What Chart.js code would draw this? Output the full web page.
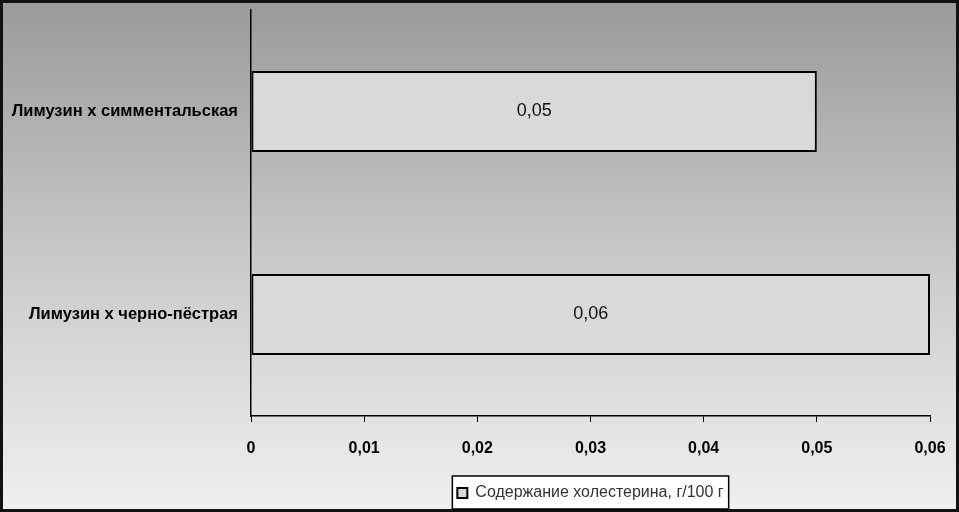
<!DOCTYPE html>
<html>
<head>
<meta charset="utf-8">
<script src="https://cdn.jsdelivr.net/npm/chart.js@4/dist/chart.umd.min.js"></script>
<style>
  html, body { margin: 0; padding: 0; background: #fff; }
  #wrap { width: 959px; height: 512px; }
</style>
</head>
<body>
<div id="wrap"><canvas id="myChart" width="959" height="512"></canvas></div>
<script>
// Define the data
var categories = ['Лимузин х симментальская', 'Лимузин х черно-пёстрая'];
var cholesterol = [0.05, 0.06]; // г/100 г
var seriesLabel = 'Содержание холестерина, г/100 г';
var xTicks = [0, 0.01, 0.02, 0.03, 0.04, 0.05, 0.06];

function fmt(v) {
  if (v === 0) return '0';
  return v.toFixed(2).replace('.', ',');
}

// background gradient, outer frame and legend box
var backdrop = {
  id: 'backdrop',
  beforeDraw: function(chart) {
    var c = chart.ctx, w = chart.width, h = chart.height;
    c.save();
    var g = c.createLinearGradient(0, 0, 0, h);
    g.addColorStop(0, '#9a9a9a');
    g.addColorStop(0.55, '#cdcdcd');
    g.addColorStop(1, '#f0f0f0');
    c.fillStyle = g;
    c.fillRect(0, 0, w, h);
    c.strokeStyle = '#111';
    c.lineWidth = 3;
    c.strokeRect(1.5, 1.5, w - 3, h - 3);
    var hb = chart.legend && chart.legend.legendHitBoxes && chart.legend.legendHitBoxes[0];
    if (hb) {
      c.fillStyle = '#fff';
      c.fillRect(hb.left - 5, hb.top - 9, hb.width + 10, hb.height + 17);
      c.strokeStyle = '#000';
      c.lineWidth = 1.5;
      c.strokeRect(hb.left - 5, hb.top - 9, hb.width + 10, hb.height + 17);
    }
    c.restore();
  }
};

// value labels in the middle of each bar
var valueLabels = {
  id: 'valueLabels',
  afterDatasetsDraw: function(chart) {
    var c = chart.ctx;
    var meta = chart.getDatasetMeta(0);
    c.save();
    c.font = '18px "Liberation Sans", Arial, sans-serif';
    c.fillStyle = '#111';
    c.textAlign = 'center';
    c.textBaseline = 'middle';
    meta.data.forEach(function(bar, i) {
      var x = (bar.x + bar.base) / 2;
      c.fillText(fmt(chart.data.datasets[0].data[i]), x, bar.y);
    });
    c.restore();
  }
};

var ctx = document.getElementById('myChart').getContext('2d');
var myChart = new Chart(ctx, {
  type: 'bar',
  data: {
    labels: categories,
    datasets: [{
      label: seriesLabel,
      data: cholesterol,
      backgroundColor: '#d9d9d9',
      borderColor: '#000',
      borderWidth: 2,
      borderSkipped: false,
      categoryPercentage: 1,
      barPercentage: 0.4
    }]
  },
  options: {
    indexAxis: 'y',
    responsive: false,
    maintainAspectRatio: false,
    animation: false,
    devicePixelRatio: 1,
    layout: { padding: { top: 10, right: 29, left: 0, bottom: 1 } },
    scales: {
      x: {
        min: 0,
        max: 0.06,
        afterBuildTicks: function(scale) {
          scale.ticks = xTicks.map(function(v) { return { value: v }; });
        },
        afterFit: function(scale) {
          scale.height = 59;
          scale.paddingLeft = 0;
          scale.paddingRight = 0;
        },
        grid: { drawOnChartArea: false, drawTicks: true, tickLength: 6, color: '#000' },
        border: { display: true, color: '#000', width: 1.5 },
        ticks: {
          padding: 17,
          color: '#000',
          font: { family: '"Liberation Sans", Arial, sans-serif', size: 16, weight: 'bold' },
          callback: function(v) { return fmt(v); }
        }
      },
      y: {
        afterFit: function(scale) {
          scale.width = 251;
          scale.paddingTop = 0;
          scale.paddingBottom = 0;
        },
        grid: { display: false },
        border: { display: true, color: '#000', width: 1.5 },
        ticks: {
          padding: 5,
          color: '#000',
          font: { family: '"Liberation Sans", Arial, sans-serif', size: 16.5, weight: 'bold' }
        }
      }
    },
    plugins: {
      legend: {
        position: 'bottom',
        fullSize: false,
        labels: {
          boxWidth: 10,
          boxHeight: 10,
          padding: 10,
          color: '#333',
          font: { family: '"Liberation Sans", Arial, sans-serif', size: 16 }
        }
      },
      tooltip: { enabled: false }
    }
  },
  plugins: [backdrop, valueLabels]
});
</script>
</body>
</html>
